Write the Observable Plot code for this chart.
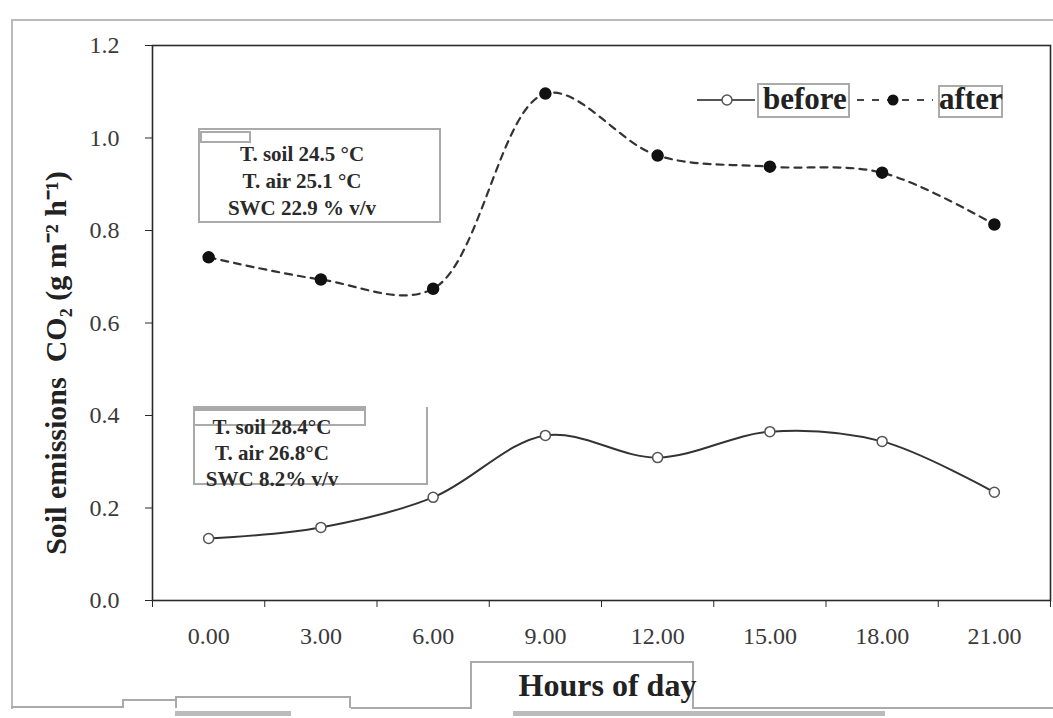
<!DOCTYPE html>
<html>
<head>
<meta charset="utf-8">
<script src="https://cdn.jsdelivr.net/npm/d3@7"></script>
<script src="https://cdn.jsdelivr.net/npm/@observablehq/plot@0.6"></script>
<style>
  html, body { margin: 0; padding: 0; background: #fff; }
  #wrap { position: relative; width: 1053px; height: 718px; overflow: hidden; font-family: "Liberation Serif", serif; }
  #wrap svg { position: absolute; left: 0; top: 0; }
  .ov { position: absolute; box-sizing: border-box; }
  .info { font-weight: bold; font-size: 21px; color: #2a2a2a; text-align: center; line-height: 27px; white-space: nowrap; }
  .leg { font-weight: bold; font-size: 31px; color: #222; line-height: 36px; }
</style>
</head>
<body>
<div id="wrap"></div>
<script>
// ---- data ----
const hours = [0, 3, 6, 9, 12, 15, 18, 21];
const hourLabels = ["0.00", "3.00", "6.00", "9.00", "12.00", "15.00", "18.00", "21.00"];
const before = [0.134, 0.158, 0.223, 0.357, 0.309, 0.365, 0.344, 0.234];
const after = [0.742, 0.694, 0.674, 1.096, 0.962, 0.938, 0.925, 0.813];
const yTicks = [0, 0.2, 0.4, 0.6, 0.8, 1.0, 1.2];
const bandEdges = [-1.5, 1.5, 4.5, 7.5, 10.5, 13.5, 16.5, 19.5, 22.5];
const seriesNames = ["before", "after"];
const infoAfter = ["T. soil 24.5 °C", "T. air 25.1 °C", "SWC 22.9 % v/v"];
const infoBefore = ["T. soil 28.4°C", "T. air 26.8°C", "SWC 8.2% v/v"];
const yLabel = "Soil emissions  CO₂ (g m⁻² h⁻¹)";
const xLabel = "Hours of day";

const rowsBefore = hours.map((h, i) => ({hour: h, value: before[i]}));
const rowsAfter = hours.map((h, i) => ({hour: h, value: after[i]}));

const font = "Liberation Serif";
const ink = "#2a2a2a";

const chart = Plot.plot({
  width: 1053,
  height: 718,
  marginLeft: 152,
  marginRight: 3,
  marginTop: 45,
  marginBottom: 118,
  style: {fontFamily: font, background: "transparent", overflow: "visible"},
  x: {type: "linear", domain: [-1.5, 22.5]},
  y: {domain: [0, 1.2]},
  marks: [
    Plot.frame({stroke: ink, strokeWidth: 1.6}),
    Plot.axisY(yTicks, {tickSize: 7, tickPadding: 26, tickFormat: d => d.toFixed(1), fontSize: 24, fill: "#3a3a3a", stroke: ink, label: null}),
    Plot.axisX(bandEdges, {tickSize: 7, tickFormat: () => "", stroke: ink, label: null}),
    Plot.axisX(hours, {tickSize: 0, tickPadding: 26, tickFormat: (d) => hourLabels[hours.indexOf(d)], fontSize: 24, fill: "#3a3a3a", label: null}),
    Plot.line(rowsBefore, {x: "hour", y: "value", curve: "catmull-rom", stroke: "#333", strokeWidth: 2}),
    Plot.line(rowsAfter, {x: "hour", y: "value", curve: "catmull-rom", stroke: "#333", strokeWidth: 2.2, strokeDasharray: "7,6"}),
    Plot.dot(rowsBefore, {x: "hour", y: "value", r: 5, fill: "white", stroke: "#555", strokeWidth: 1.5}),
    Plot.dot(rowsAfter, {x: "hour", y: "value", r: 5.5, fill: "#111", stroke: "#111"}),
    Plot.text([yLabel], {frameAnchor: "left", textAnchor: "middle", rotate: -90, dx: -96, dy: 40, fontSize: 30, fontWeight: "bold", fill: "#222", fontFamily: font}),
    Plot.text([xLabel], {frameAnchor: "bottom", dx: 6, dy: 95, fontSize: 32, fontWeight: "bold", fill: "#222", fontFamily: font})
  ]
});

const wrap = document.getElementById("wrap");

function box(css, html) {
  const d = document.createElement("div");
  d.className = "ov";
  Object.assign(d.style, css);
  if (html) d.innerHTML = html;
  wrap.appendChild(d);
  return d;
}
// decorative page borders / scan artifacts
box({left: "12px", top: "19px", width: "1041px", height: "0", borderTop: "2px solid #bbb"});
box({left: "11px", top: "19px", width: "0", height: "690px", borderLeft: "2px solid #bbb"});
box({left: "11px", top: "706px", width: "112px", height: "0", borderTop: "2px solid #aaa"});
box({left: "122px", top: "699px", width: "54px", height: "9px", borderTop: "2px solid #aaa", borderLeft: "2px solid #aaa"});
box({left: "175px", top: "696px", width: "176px", height: "12px", borderTop: "2px solid #aaa", borderLeft: "2px solid #aaa", borderRight: "2px solid #aaa"});
box({left: "351px", top: "707px", width: "120px", height: "0", borderTop: "2px solid #aaa"});
box({left: "470px", top: "661px", width: "224px", height: "48px", borderTop: "2px solid #aaa", borderLeft: "2px solid #aaa", borderRight: "2px solid #aaa"});
box({left: "694px", top: "707px", width: "359px", height: "0", borderTop: "2px solid #aaa"});
box({left: "175px", top: "711px", width: "116px", height: "5px", background: "#bbb"});
box({left: "513px", top: "711px", width: "372px", height: "5px", background: "#bbb"});

wrap.appendChild(chart);

// info boxes
box({left: "198px", top: "128px", width: "243px", height: "95px", border: "2px solid #aaa", background: "white"});
box({left: "200px", top: "131px", width: "51px", height: "12px", border: "2px solid #aaa"});
const ia = box({left: "200px", top: "141px", width: "204px"}, infoAfter.map(t => `<div>${t}</div>`).join(""));
ia.className = "ov info";

box({left: "193px", top: "407px", width: "235px", height: "78px", border: "2px solid #aaa", borderTop: "none"});
box({left: "193px", top: "406px", width: "173px", height: "20px", border: "2px solid #aaa", borderTop: "5px solid #aaa"});
const ib = box({left: "192px", top: "414px", width: "160px"}, infoBefore.map(t => `<div>${t}</div>`).join(""));
ib.className = "ov info";
ib.style.lineHeight = "26px";

// legend
const legSvg = `<svg width="330" height="40" style="position:absolute;left:0;top:0;overflow:visible">
  <line x1="0" y1="20" x2="58" y2="20" stroke="#555" stroke-width="2"/>
  <circle cx="30" cy="20" r="5" fill="white" stroke="#555" stroke-width="1.5"/>
  <line x1="160" y1="20" x2="236" y2="20" stroke="#444" stroke-width="2.2" stroke-dasharray="7,8"/>
  <circle cx="196" cy="20" r="5.5" fill="#111"/>
</svg>`;
box({left: "697px", top: "80px", width: "330px", height: "40px"}, legSvg);
box({left: "757px", top: "83px", width: "93px", height: "35px", border: "2px solid #aaa"});
box({left: "938px", top: "85px", width: "65px", height: "33px", border: "2px solid #aaa"});
const lb = box({left: "763px", top: "81px"}, seriesNames[0]); lb.className = "ov leg";
const la = box({left: "939px", top: "81px"}, seriesNames[1]); la.className = "ov leg";
</script>
</body>
</html>
